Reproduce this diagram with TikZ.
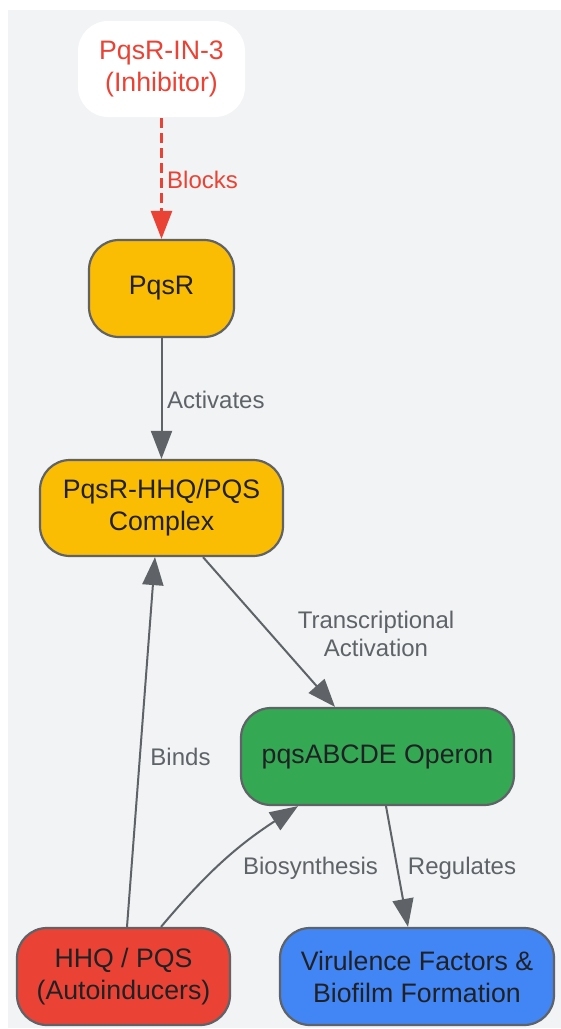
\documentclass[tikz,border=0pt]{standalone}
\usepackage{fontspec}
\setmainfont{Liberation Sans}
\usetikzlibrary{arrows.meta,calc}
\definecolor{bggray}{HTML}{F1F3F4}
\definecolor{edgegray}{HTML}{5F6368}
\definecolor{textdark}{HTML}{202124}
\definecolor{inhred}{HTML}{EA4335}
\definecolor{pqsyellow}{HTML}{FBBC04}
\definecolor{opgreen}{HTML}{34A853}
\definecolor{virblue}{HTML}{4285F4}
\newcommand{\nodefont}{\fontsize{26.7}{32}\selectfont}
\newcommand{\lblfont}{\fontsize{24}{28}\selectfont}

\begin{document}
\begin{tikzpicture}[x=1pt,y=1pt,
   box/.style={draw=edgegray,line width=2.2pt,rounded corners=30pt,align=center,
               text=textdark,font=\nodefont,minimum height=97pt,inner sep=0pt},
   link/.style={draw=edgegray,line width=2pt,-{Triangle[length=28pt,width=21pt]}},
   lbl/.style={text=edgegray,font=\lblfont,inner sep=0pt,align=center}]
   \useasboundingbox (0,0) rectangle (561,-1029);
   \fill[bggray] (8,-10) rectangle (561,-1028);
   % nodes
   \node[box,draw=none,fill=white,text=inhred,minimum width=167pt,minimum height=96pt]
        (inh) at (161.5,-69) {PqsR-IN-3\\(Inhibitor)};
   \node[box,fill=pqsyellow,minimum width=145pt] (pqsr) at (161.5,-288.5) {PqsR};
   \node[box,fill=pqsyellow,minimum width=243pt,minimum height=96pt]
        (cplx) at (161.5,-508) {PqsR-HHQ/PQS\\Complex};
   \node[box,fill=opgreen,minimum width=273pt] (operon) at (377.5,-756.5) {pqsABCDE Operon};
   \node[box,fill=inhred,minimum width=213pt] (hhq) at (123.5,-976.5) {HHQ / PQS\\(Autoinducers)};
   \node[box,fill=virblue,minimum width=274pt] (vir) at (417,-976.5)
        {Virulence Factors \&\\Biofilm Formation};
   % edges
   \draw[link,draw=inhred,line width=2.6pt,dash pattern=on 10pt off 5pt,
         -{Triangle[length=28pt,width=21pt,fill=inhred]}] (inh) -- (pqsr);
   \draw[link] (pqsr) -- (cplx);
   \draw[link] ([xshift=41.5pt]cplx.south) -- ([xshift=-42.5pt]operon.north);
   \draw[link] ([xshift=3.5pt]hhq.north) -- ([xshift=-6.5pt]cplx.south);
   \draw[link] ([xshift=37.5pt]hhq.north) to[out=50,in=213] ([xshift=-79.5pt]operon.south);
   \draw[link] ([xshift=8.5pt]operon.south) -- ([xshift=-9pt]vir.north);
   % labels
   \node[lbl,text=inhred,anchor=west] (lblocks) at (167,-180) {Blocks};
   \node[lbl,anchor=west] (lact) at (167,-400) {Activates};
   \node[lbl] (ltrans) at (376,-634) {Transcriptional\\Activation};
   \node[lbl] (lbinds) at (180.5,-757) {Binds};
   \node[lbl] (lbio) at (310.5,-868) {Biosynthesis};
   \node[lbl] (lreg) at (462,-868) {Regulates};
\end{tikzpicture}
\end{document}
